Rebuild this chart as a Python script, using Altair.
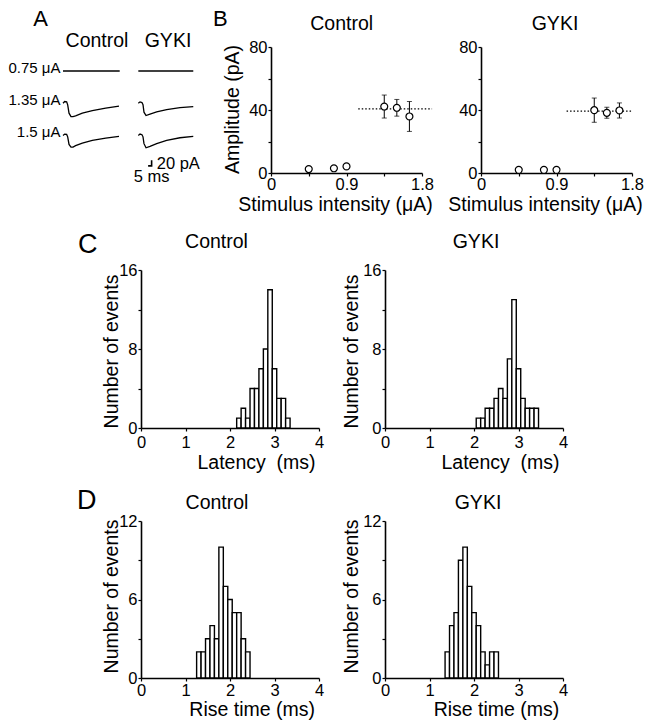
import altair as alt
import pandas as pd

FONT = "Liberation Sans"
TICK_FS = 16.5
TITLE_FS = 19.5

# ---------------- Panel A: example traces (ms, pA) ----------------
a_conditions = ["Control", "GYKI"]
a_stim_labels = ["0.75 μA", "1.35 μA", "1.5 μA"]

ctrl_075_t = [0, 81]
ctrl_075_pA = [0, 0]
ctrl_135_t = [0, 2.4, 5.2, 6.7, 8.6, 11.4, 14.3, 18, 27.6, 41.9, 61, 80]
ctrl_135_pA = [0, 5.9, 4.7, -5.9, -35, -47, -47, -44.5, -35, -25.7, -17.5, -10.5]
ctrl_150_t = [0, 2.4, 5.2, 6.7, 8.6, 11.4, 14.3, 18, 27.6, 41.9, 61, 80]
ctrl_150_pA = [0, 4.7, 3.5, -5, -31.6, -41, -41, -36, -27, -17.5, -9.4, -3.5]
gyki_075_t = [0, 78.5]
gyki_075_pA = [0, 0]
gyki_135_t = [0, 2.4, 5.2, 6.7, 8.1, 11, 16.7, 26.2, 40.5, 59.5, 78.5]
gyki_135_pA = [0, 4.7, 2.3, -5, -31.6, -43.3, -38.6, -30.4, -22.2, -15.2, -11.7]
gyki_150_t = [0, 2.4, 5.2, 6.7, 8.1, 11, 16.7, 26.2, 40.5, 59.5, 78.5]
gyki_150_pA = [0, 4.7, 2.3, -5, -29, -43.3, -38.6, -29, -17.5, -8.2, -3.5]

scalebar_t = [14, 19, 19]
scalebar_pA = [-107, -107, -87]

# ---------------- Panel B: amplitude vs stimulus ----------------
b_stim = [0.45, 0.75, 0.9, 1.35, 1.5, 1.65]
b_ctrl_amp = [2.5, 3.0, 4.2, 42.2, 41.4, 35.9]
b_ctrl_sem = [0, 0, 0, 7.3, 5.3, 9.5]
b_gyki_amp = [2.0, 2.0, 2.0, 39.9, 38.2, 39.7]
b_gyki_sem = [0, 0, 0, 7.7, 3.5, 4.8]
b_dot_start = [1.04, 1.02]
b_dot_end = [1.92, 1.79]
b_dot_level = [40.7, 39.3]

# ---------------- Panels C, D: histograms ----------------
lat_ctrl_center = [2.2, 2.3, 2.4, 2.5, 2.6, 2.7, 2.8, 2.9, 3.0, 3.1, 3.2, 3.3]
lat_ctrl_n = [1, 2, 1, 4, 4, 6, 8, 14, 6, 3, 3, 1]
lat_gyki_center = [2.1, 2.2, 2.3, 2.4, 2.5, 2.6, 2.7, 2.8, 2.9, 3.0, 3.1, 3.2, 3.3, 3.4]
lat_gyki_n = [1, 1, 2, 2, 3, 4, 3, 7, 13, 6, 3, 2, 2, 2]
rise_ctrl_center = [1.3, 1.4, 1.5, 1.6, 1.7, 1.8, 1.9, 2.0, 2.1, 2.2, 2.3, 2.4]
rise_ctrl_n = [2, 2, 3, 4, 3, 10, 7, 6, 5, 5, 3, 2]
rise_gyki_center = [1.4, 1.5, 1.6, 1.7, 1.8, 1.9, 2.0, 2.1, 2.2, 2.3, 2.4, 2.5]
rise_gyki_n = [2, 4, 5, 9, 10, 7, 5, 4, 2, 1, 2, 2]
BIN_HALF = 0.05


def txt(s, x, y, size=TITLE_FS, align="center", baseline="alphabetic"):
    return alt.Chart(pd.DataFrame({"s": [s]})).mark_text(
        font=FONT, fontSize=size, color="black", align=align, baseline=baseline
    ).encode(text="s:N", x=alt.value(x), y=alt.value(y))


def spacer(w, h, letter=None, lx=0, ly=0, size=27):
    if letter:
        return txt(letter, lx, ly, size=size, align="left").properties(width=w, height=h)
    return alt.Chart(pd.DataFrame({"s": [""]})).mark_text().encode(
        text="s:N").properties(width=w, height=h)


# ---------------- Panel A chart ----------------
PX_MS = 0.7
PX_PA = 0.285
A_W, ROW1_H = 263, 126
T0_PX = 55
TOP_PA = 84.2
GYKI_SHIFT = 107.6
ROW_STEP = 113

traces = [
    ("Control", 0, ctrl_075_t, ctrl_075_pA),
    ("Control", 1, ctrl_135_t, ctrl_135_pA),
    ("Control", 2, ctrl_150_t, ctrl_150_pA),
    ("GYKI", 0, gyki_075_t, gyki_075_pA),
    ("GYKI", 1, gyki_135_t, gyki_135_pA),
    ("GYKI", 2, gyki_150_t, gyki_150_pA),
]
rows = []
for cond, r, ts, ps in traces:
    for k, (t, p) in enumerate(zip(ts, ps)):
        rows.append(dict(trace=f"{cond}{r}", cond=cond, row=r, k=k, t=t, pA=p))
df_tr = pd.DataFrame(rows)
df_sb = pd.DataFrame({"cond": "GYKI", "row": 2, "k": [0, 1, 2],
                      "t": scalebar_t, "pA": scalebar_pA})
df_stim = pd.DataFrame({"label": a_stim_labels, "row": [0, 1, 2]})

xA = alt.X("x:Q", scale=alt.Scale(domain=[-T0_PX / PX_MS, (A_W - T0_PX) / PX_MS],
                                   nice=False, zero=False), axis=None)
yA = alt.Y("y:Q", scale=alt.Scale(domain=[TOP_PA - ROW1_H / PX_PA, TOP_PA],
                                   nice=False, zero=False), axis=None)
calc_x = f"datum.t + (datum.cond == 'GYKI' ? {GYKI_SHIFT} : 0)"
calc_y = f"datum.pA - datum.row * {ROW_STEP}"

a_lines = alt.Chart(df_tr).transform_calculate(x=calc_x, y=calc_y).mark_line(
    color="black", strokeWidth=1.3).encode(x=xA, y=yA, detail="trace:N", order="k:Q")
a_sb = alt.Chart(df_sb).transform_calculate(x=calc_x, y=calc_y).mark_line(
    color="black", strokeWidth=1.6).encode(x=xA, y=yA, order="k:Q")
a_stim = alt.Chart(df_stim).transform_calculate(y=f"-datum.row * {ROW_STEP}").mark_text(
    font=FONT, fontSize=15, color="black", align="right", baseline="alphabetic", dy=2
).encode(x=alt.value(52.5), y=yA, text="label:N")

panelA = alt.layer(
    a_lines, a_sb, a_stim,
    txt(a_conditions[0], 89, 0),
    txt(a_conditions[1], 160, 0),
    txt("20 pA", 148.7, 121.6, size=16.5, align="left"),
    txt("5 ms", 143.7, 135, size=16.5),
    txt("A", 25.3, -20.7, size=22, align="left"),
).properties(width=A_W, height=ROW1_H)


# ---------------- Panel B charts ----------------
B_W = 151


def b_panel(idx, name, amp, sem, title_x, ytitle, letter=None):
    df = pd.DataFrame({"stim": b_stim, "amp": amp, "sem": sem})
    df_dot = pd.DataFrame({"stim": [b_dot_start[idx]], "stim_end": [b_dot_end[idx]],
                           "amp": [b_dot_level[idx]]})
    xaxis = alt.Axis(values=[0, 0.45, 0.9, 1.35, 1.8], format="~g",
                     labelExpr="datum.value == 0.45 || datum.value == 1.35 ? '' : datum.label",
                     title="Stimulus intensity (μA)", titleX=64, titleY=37.2,
                     titleAlign="center", titleBaseline="alphabetic",
                     tickSize=3, labelPadding=0, labelFlush=False)
    yaxis = alt.Axis(values=[0, 20, 40, 60, 80],
                     labelExpr="datum.value == 20 || datum.value == 60 ? '' : datum.label",
                     title=ytitle, titleX=-33, titleY=62, titleAlign="center",
                     titleBaseline="alphabetic", tickSize=3, labelPadding=1, labelFlush=False)
    xs = alt.Scale(domain=[0, 1.8], nice=False)
    ys = alt.Scale(domain=[0, 80], nice=False)
    X = alt.X("stim:Q", scale=xs, axis=xaxis)

    def Y(f):
        return alt.Y(f, scale=ys, axis=yaxis)

    base = alt.Chart(df)
    err = base.transform_filter("datum.sem > 0").transform_calculate(
        lo="datum.amp - datum.sem", hi="datum.amp + datum.sem")
    dotted = alt.Chart(df_dot).mark_rule(color="black", strokeWidth=1.2,
                                         strokeDash=[1.5, 2]).encode(
        x=X, x2="stim_end:Q", y=Y("amp:Q"))
    bars = err.mark_rule(color="black", strokeWidth=1).encode(x=X, y=Y("lo:Q"), y2="hi:Q")
    cap_lo = err.mark_tick(color="black", orient="horizontal", size=5, thickness=1).encode(
        x=X, y=Y("lo:Q"))
    cap_hi = err.mark_tick(color="black", orient="horizontal", size=5, thickness=1).encode(
        x=X, y=Y("hi:Q"))
    pts = base.mark_circle(size=48, fill="white", stroke="black", strokeWidth=1.2,
                           opacity=1).encode(x=X, y=Y("amp:Q"))
    layers = [dotted, bars, cap_lo, cap_hi, pts, txt(name, title_x, -16.7)]
    if letter:
        layers.append(txt(letter, -58, -20.7, size=22, align="left"))
    return alt.layer(*layers).properties(width=B_W, height=ROW1_H)


panelBc = b_panel(0, "Control", b_ctrl_amp, b_ctrl_sem, 70.7, "Amplitude (pA)", letter="B")
panelBg = b_panel(1, "GYKI", b_gyki_amp, b_gyki_sem, 74, None)

# ---------------- Histograms ----------------
H_W = 178


def hist(centers, counts, ymax, ystep, height, xtitle, xtitleX, xtitleY, xlabpad,
         ytitleX, ytitleY, name, name_x, name_y):
    df = pd.DataFrame({"center": centers, "n": counts})
    xaxis = alt.Axis(values=[0, 1, 2, 3, 4], title=xtitle, titleX=xtitleX, titleY=xtitleY,
                     titleAlign="center", titleBaseline="alphabetic", tickSize=3,
                     labelPadding=xlabpad, labelFlush=False)
    yaxis = alt.Axis(values=[0, ystep, 2 * ystep, 3 * ystep, 4 * ystep],
                     labelExpr=f"datum.value % {2 * ystep} == 0 ? datum.label : ''",
                     title="Number of events", titleX=ytitleX, titleY=ytitleY,
                     titleAlign="center", titleBaseline="alphabetic", tickSize=3,
                     labelPadding=1, labelFlush=False)
    ys = alt.Scale(domain=[0, ymax], nice=False)
    bars = alt.Chart(df).transform_calculate(
        x0=f"datum.center - {BIN_HALF}", x1=f"datum.center + {BIN_HALF}", z="0"
    ).mark_bar(fill="white", stroke="black", strokeWidth=1.4).encode(
        x=alt.X("x0:Q", scale=alt.Scale(domain=[0, 4], nice=False), axis=xaxis),
        x2="x1:Q",
        y=alt.Y("n:Q", scale=ys, axis=yaxis),
        y2="z:Q",
    )
    return alt.layer(bars, txt(name, name_x, name_y)).properties(width=H_W, height=height)


LAT_TITLE = "Latency\u00a0 (ms)"
C_H, D_H = 158, 157
panelCc = hist(lat_ctrl_center, lat_ctrl_n, 16, 4, C_H, LAT_TITLE, 115, 40.7, 3,
               -24, 81, "Control", 75.5, -21.7)
panelCg = hist(lat_gyki_center, lat_gyki_n, 16, 4, C_H, LAT_TITLE, 115, 40.7, 3,
               -28, 81, "GYKI", 91, -21.7)
panelDc = hist(rise_ctrl_center, rise_ctrl_n, 12, 3, D_H, "Rise time (ms)", 110.7, 37.8, 1.5,
               -24, 75, "Control", 76, -12.4)
panelDg = hist(rise_gyki_center, rise_gyki_n, 12, 3, D_H, "Rise time (ms)", 111, 37.8, 1.5,
               -28, 75, "GYKI", 93, -12.4)

row1 = alt.hconcat(panelA, panelBc, spacer(59, ROW1_H), panelBg, spacing=0, bounds="flush")
row2 = alt.hconcat(spacer(133, C_H, "C", 70, -16.7), panelCc, spacer(66, C_H), panelCg,
                   spacing=0, bounds="flush")
row3 = alt.hconcat(spacer(133, D_H, "D", 69, -12.4), panelDc, spacer(66, D_H), panelDg,
                   spacing=0, bounds="flush")

# nested rows report no height to the flush layout, so the gap spacers carry row height + gap
chart = alt.vconcat(
    row1, spacer(10, ROW1_H + 97), row2, spacer(10, C_H + 93), row3, spacing=0, bounds="flush"
).properties(padding=0).configure_view(strokeWidth=0).configure_axis(
    grid=False, domainColor="black", domainWidth=1.6, tickColor="black", tickWidth=1.2,
    labelColor="black", titleColor="black", labelFont=FONT, titleFont=FONT,
    labelFontSize=TICK_FS, titleFontSize=TITLE_FS, titleFontWeight="normal",
)

chart.save("out.html", embed_options={"renderer": "svg", "actions": False})
